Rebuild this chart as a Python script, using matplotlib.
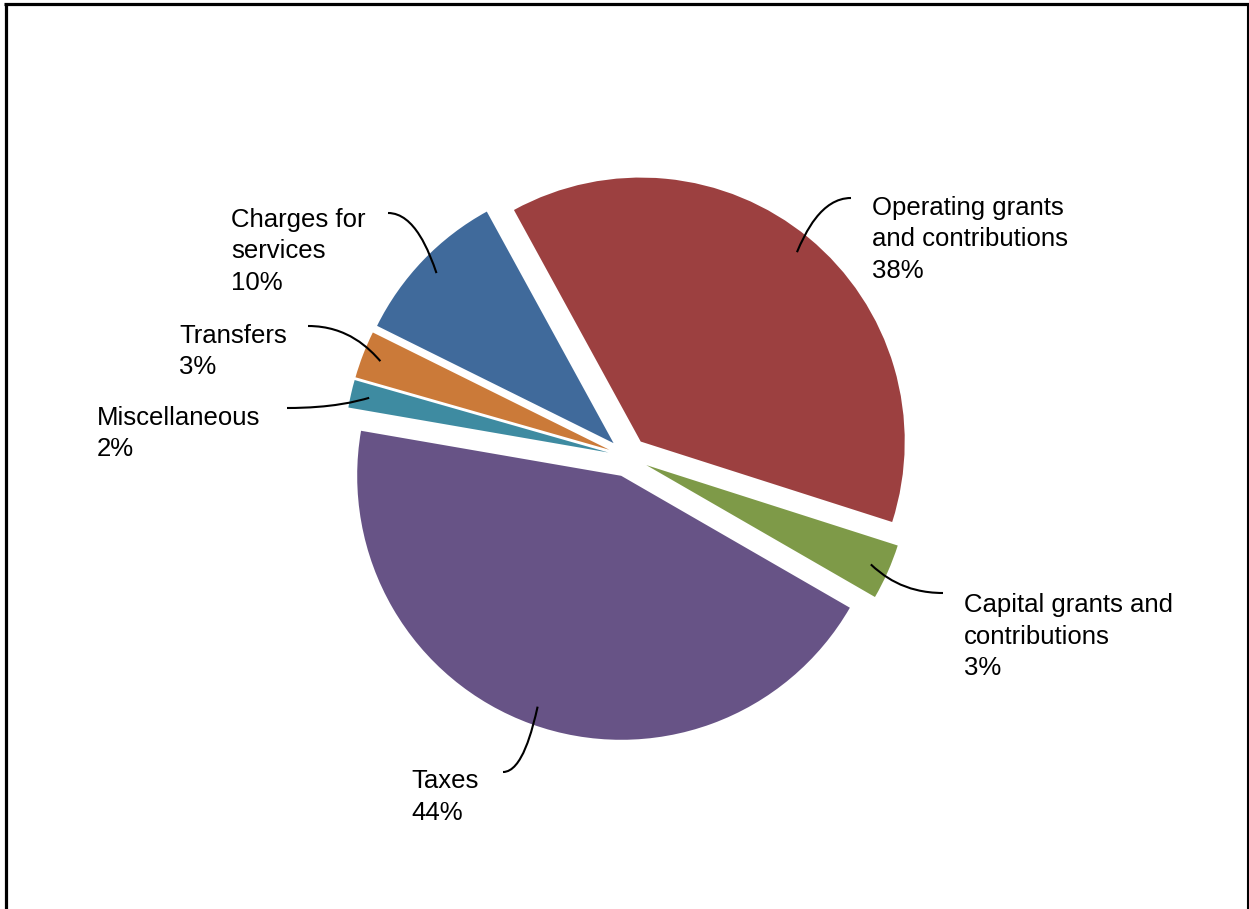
import matplotlib
matplotlib.use("Agg")
import matplotlib.pyplot as plt
from matplotlib.path import Path
from matplotlib.patches import PathPatch
from matplotlib.lines import Line2D
import numpy as np

# Revenue sources, percent of total
categories = ["Operating grants\nand contributions", "Capital grants and\ncontributions",
              "Taxes", "Miscellaneous", "Transfers", "Charges for\nservices"]
shares = [37.9, 3.4, 44.4, 1.7, 2.9, 9.7]
colors = ["#9C4040", "#7E9A48", "#675386", "#3E8BA1", "#CB7A39", "#406A9B"]

# label anchor (x, first-baseline y) and leader-line start, in pixel coordinates
label_pos = [(872, 215), (964, 612), (411, 788), (97, 425), (179, 343), (231, 227)]
leader_start = [(851, 198), (943, 593), (503, 772), (287, 408), (308, 326), (388, 213)]

W, H = 1249, 909
LINE_STEP = 31.5

fig = plt.figure(figsize=(W / 100, H / 100), dpi=100)
ax = fig.add_axes([0, 0, 1, 1])
plt.rcParams["font.family"] = ["Liberation Sans", "DejaVu Sans"]

cx, cy, radius = 628, H - 457, 264
wedges, _ = ax.pie(shares, colors=colors, startangle=118.7, counterclock=False,
                   radius=radius, center=(cx, cy), explode=[20] * len(shares),
                   wedgeprops=dict(linewidth=0))
ax.set_xlim(0, W)
ax.set_ylim(0, H)
ax.set_aspect("equal")
ax.axis("off")

for w, name, pct, (lx, ly), (sx, sy) in zip(wedges, categories, shares, label_pos, leader_start):
    lines = name.split("\n") + [f"{pct:.0f}%"]
    for i, line in enumerate(lines):
        ax.text(lx, H - (ly + i * LINE_STEP), line, ha="left", va="baseline",
                fontsize=18.5, color="black")
    # leader line ends inside the wedge along its bisector
    tm = np.deg2rad(0.5 * (w.theta1 + w.theta2))
    ex = w.center[0] + 0.93 * w.r * np.cos(tm)
    ey = w.center[1] + 0.93 * w.r * np.sin(tm)
    sy_d = H - sy
    dx = ex - sx
    verts = [(sx, sy_d), (sx + 0.55 * dx, sy_d), (ex - 0.15 * dx, ey + 0.35 * (sy_d - ey)), (ex, ey)]
    path = Path(verts, [Path.MOVETO, Path.CURVE4, Path.CURVE4, Path.CURVE4])
    ax.add_patch(PathPatch(path, fill=False, edgecolor="black", linewidth=1.5))

# outer frame (left, top, right)
fig.add_artist(Line2D([5.5 / W, 5.5 / W], [0, 1 - 3.5 / H], color="black", linewidth=2.3,
                      transform=fig.transFigure, solid_capstyle="butt"))
fig.add_artist(Line2D([4 / W, 1], [1 - 3.5 / H, 1 - 3.5 / H], color="black", linewidth=2.3,
                      transform=fig.transFigure, solid_capstyle="butt"))
fig.add_artist(Line2D([1 - 1.5 / W, 1 - 1.5 / W], [0, 1 - 3.5 / H], color="black", linewidth=1.5,
                      transform=fig.transFigure, solid_capstyle="butt"))

fig.savefig("out.png", dpi=100)
